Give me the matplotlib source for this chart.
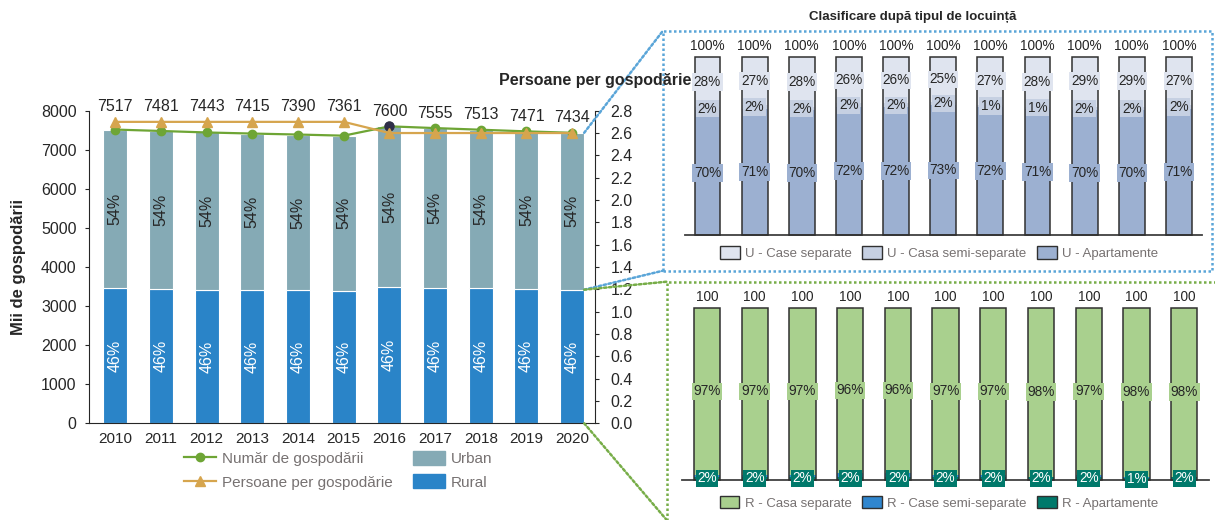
import matplotlib
matplotlib.use("Agg")
import matplotlib.pyplot as plt
import numpy as np
from matplotlib.lines import Line2D
from matplotlib.patches import Patch, Rectangle, ConnectionPatch

plt.rcParams['font.family'] = ['Liberation Sans', 'DejaVu Sans']

# --- date ---
years = [2010, 2011, 2012, 2013, 2014, 2015, 2016, 2017, 2018, 2019, 2020]
households = [7517, 7481, 7443, 7415, 7390, 7361, 7600, 7555, 7513, 7471, 7434]
rural = [3458, 3441, 3424, 3411, 3399, 3386, 3496, 3475, 3456, 3437, 3420]
urban = [4059, 4040, 4019, 4004, 3991, 3975, 4104, 4080, 4057, 4034, 4014]
persons = [2.7, 2.7, 2.7, 2.7, 2.7, 2.7, 2.6, 2.6, 2.6, 2.6, 2.6]
highlight_year = 2016

# urban: tipul de locuinta (%)
u_apart = [70, 71, 70, 72, 72, 73, 72, 71, 70, 70, 71]
u_semi = [2, 2, 2, 2, 2, 2, 1, 1, 2, 2, 2]
u_sep = [28, 27, 28, 26, 26, 25, 27, 28, 29, 29, 27]
u_total = [100, 100, 100, 100, 100, 100, 100, 100, 100, 100, 100]

# rural: tipul de locuinta (%)
r_apart = [2, 2, 2, 2, 2, 2, 2, 2, 2, 1, 2]
r_semi = [1, 1, 1, 2, 2, 1, 1, 0, 1, 1, 0]
r_sep = [97, 97, 97, 96, 96, 97, 97, 98, 97, 98, 98]
r_total = [100, 100, 100, 100, 100, 100, 100, 100, 100, 100, 100]

# --- culori ---
c_urban = '#85aab5'
c_rural = '#2a84c8'
c_green = '#6ea535'
c_orange = '#d6a54e'
c_dark = '#2e2e48'
c_u_sep, c_u_semi, c_u_apart = '#dfe4ef', '#c6d0e2', '#9cb0d1'
c_r_sep, c_r_semi, c_r_apart = '#a9d08e', '#2f86cf', '#00796b'
c_text = '#262626'
c_leg = '#767171'
c_blue_dot = '#5aa5d8'
c_green_dot = '#77ad48'

W, H = 1215, 520
def fx(px): return px / W
def fy(py): return 1 - py / H

fig = plt.figure(figsize=(W / 100, H / 100), dpi=100)

# ================= graficul din stanga =================
ax = fig.add_axes([fx(89), fy(423.3), fx(506), 312.6 / H])
x = np.arange(len(years))
bw = 0.525
ax.bar(x, rural, bw, color=c_rural, edgecolor='white', linewidth=0.8, zorder=2)
ax.bar(x, urban, bw, bottom=rural, color=c_urban, edgecolor='white', linewidth=0.8, zorder=2)

for i in range(len(years)):
    tot = rural[i] + urban[i]
    ax.text(x[i], rural[i] / 2, f"{round(rural[i] / tot * 100)}%", rotation=90,
            ha='center', va='center', color='white', fontsize=11.5, zorder=3)
    ax.text(x[i], rural[i] + urban[i] / 2, f"{round(urban[i] / tot * 100)}%", rotation=90,
            ha='center', va='center', color=c_text, fontsize=11.5, zorder=3)

ax.plot(x, households, color=c_green, marker='o', ms=6, lw=1.6, zorder=4)
hi = years.index(highlight_year)
ax.plot(x[hi], households[hi], 'o', color=c_dark, ms=6.5, zorder=5)

ax.set_xlim(-0.576, 10.5)
ax.set_ylim(0, 8000)
ax.set_yticks(np.arange(0, 8001, 1000))
ax.set_xticks(x)
ax.set_xticklabels([str(y) for y in years])
ax.spines['top'].set_visible(False)
ax.spines['right'].set_visible(False)
for s in ('left', 'bottom'):
    ax.spines[s].set_color(c_text)
ax.tick_params(axis='y', length=3, pad=6, labelsize=11.5, colors=c_text)
ax.tick_params(axis='x', length=0, pad=6, labelsize=11, colors=c_text)
ax.set_ylabel("Mii de gospodării", fontsize=12, fontweight='bold', color=c_text)
ax.yaxis.set_label_coords(-0.125, 0.5)

ax2 = ax.twinx()
ax2.plot(x, persons, color=c_orange, marker='^', ms=6.5, lw=1.6, zorder=4)
ax2.set_ylim(0, 2.8)
ax2.set_yticks(np.arange(0, 2.81, 0.2))
ax2.set_yticklabels([f"{v:.1f}" for v in np.arange(0, 2.81, 0.2)])
ax2.spines['top'].set_visible(False)
ax2.spines['left'].set_visible(False)
ax2.spines['bottom'].set_visible(False)
ax2.spines['right'].set_color(c_text)
ax2.tick_params(axis='y', length=3, pad=8, labelsize=11.5, colors=c_text)

# etichete valori deasupra
scale = 8000 / 2.8
for i in range(len(years)):
    ytop = max(households[i], persons[i] * scale)
    ax.annotate(str(households[i]), (x[i], ytop), xytext=(0, 10.8), textcoords='offset points',
                ha='center', va='center', fontsize=11.5, color=c_text, annotation_clip=False, zorder=6)

fig.text(fx(595), fy(80), "Persoane per gospodărie", ha='center', va='center',
         fontsize=11.5, fontweight='bold', color=c_text, zorder=10)

handles = [Line2D([], [], color=c_green, marker='o', ms=6, lw=1.6),
           Line2D([], [], color=c_orange, marker='^', ms=6.5, lw=1.6),
           Patch(color=c_urban), Patch(color=c_rural)]
labels = ["Număr de gospodării", "Persoane per gospodărie", "Urban", "Rural"]
fig.legend(handles, labels, loc='upper left', bbox_to_anchor=(fx(184), fy(451)), ncol=2,
           frameon=False, fontsize=11, handlelength=2.1, handleheight=1.0, handletextpad=0.4,
           columnspacing=1.3, labelspacing=0.55, borderpad=0, borderaxespad=0, labelcolor=c_leg)

# ================= panou dreapta sus (urban) =================
def stacked_panel(a, segs, totals, total_fmt):
    xs = np.arange(len(years))
    bottom = np.zeros(len(years))
    for vals, col, tcol in segs:
        a.bar(xs, vals, 0.55, bottom=bottom, color=col, edgecolor='none', zorder=2)
        if tcol is not None:
            for i, v in enumerate(vals):
                a.text(xs[i], bottom[i] + v / 2, f"{v}%", ha='center', va='center', fontsize=9.8,
                       color=tcol, zorder=4, clip_on=False,
                       bbox=dict(boxstyle='square,pad=0.12', fc=col, ec='none'))
        bottom = bottom + np.array(vals)
    a.bar(xs, totals, 0.55, fill=False, edgecolor='#303030', linewidth=1.1, zorder=3, clip_on=False)
    for i, t in enumerate(totals):
        a.annotate(total_fmt.format(t), (xs[i], t), xytext=(0, 8), textcoords='offset points',
                   ha='center', va='center', fontsize=9.8, color=c_text, annotation_clip=False)
    a.set_ylim(0, 100)
    for s in ('top', 'left', 'right'):
        a.spines[s].set_visible(False)
    a.spines['bottom'].set_color('#404040')
    a.spines['bottom'].set_linewidth(1.3)
    a.set_xticks([])
    a.set_yticks([])
    a.patch.set_alpha(0)

axu = fig.add_axes([fx(685), fy(235.3), fx(1202 - 685), (235.3 - 57) / H])
stacked_panel(axu, [(u_apart, c_u_apart, c_text), (u_semi, c_u_semi, c_text), (u_sep, c_u_sep, c_text)],
              u_total, "{}%")
axu.set_xlim(-0.477, 10.49)
fig.text(fx(913), fy(17), "Clasificare după tipul de locuință", ha='center', va='center',
         fontsize=9.5, fontweight='bold', color=c_text)

hu = [Patch(fc=c_u_sep, ec='#303030'), Patch(fc=c_u_semi, ec='#303030'), Patch(fc=c_u_apart, ec='#303030')]
fig.legend(hu, ["U - Case separate", "U - Casa semi-separate", "U - Apartamente"], loc='center',
           bbox_to_anchor=(fx(939), fy(253)), ncol=3, frameon=False, fontsize=9.5, handlelength=1.5,
           handleheight=1.1, handletextpad=0.4, columnspacing=0.8, borderpad=0, labelcolor=c_leg)

# ================= panou dreapta jos (rural) =================
axr = fig.add_axes([fx(682), fy(480), fx(1209 - 682), (480 - 307.7) / H])
stacked_panel(axr, [(r_apart, c_r_apart, 'white'), (r_semi, c_r_semi, None), (r_sep, c_r_sep, c_text)],
              r_total, "{}")
axr.set_xlim(-0.524, 10.52)

hr = [Patch(fc=c_r_sep, ec='#303030'), Patch(fc=c_r_semi, ec='#303030'), Patch(fc=c_r_apart, ec='#303030')]
fig.legend(hr, ["R - Casa separate", "R - Case semi-separate", "R - Apartamente"], loc='center',
           bbox_to_anchor=(fx(939), fy(502.7)), ncol=3, frameon=False, fontsize=9.5, handlelength=1.5,
           handleheight=1.1, handletextpad=0.4, columnspacing=0.8, borderpad=0, labelcolor=c_leg)

# ================= rame si linii de legatura =================
dots = (0, (1, 1))
fig.add_artist(Rectangle((fx(663), fy(270.7)), fx(1212 - 663), (270.7 - 30.7) / H, transform=fig.transFigure,
                         fill=False, ec=c_blue_dot, lw=1.8, ls=dots))
fig.add_artist(Rectangle((fx(666.7), fy(530)), fx(1230 - 666.7), (530 - 281.7) / H, transform=fig.transFigure,
                         fill=False, ec=c_green_dot, lw=1.8, ls=dots))

xe = x[-1] + bw / 2
links = [((xe, households[-1]), (fx(663), fy(30.7)), c_blue_dot),
         ((xe, rural[-1]), (fx(663), fy(270.7)), c_blue_dot),
         ((xe, rural[-1]), (fx(666.7), fy(281.7)), c_green_dot),
         ((xe, 0), (fx(666.7), fy(520)), c_green_dot)]
for pa, pb, col in links:
    con = ConnectionPatch(xyA=pa, coordsA=ax.transData, xyB=pb, coordsB=fig.transFigure,
                          color=col, lw=1.8, ls=dots)
    fig.add_artist(con)

fig.savefig("out.png", dpi=100)
